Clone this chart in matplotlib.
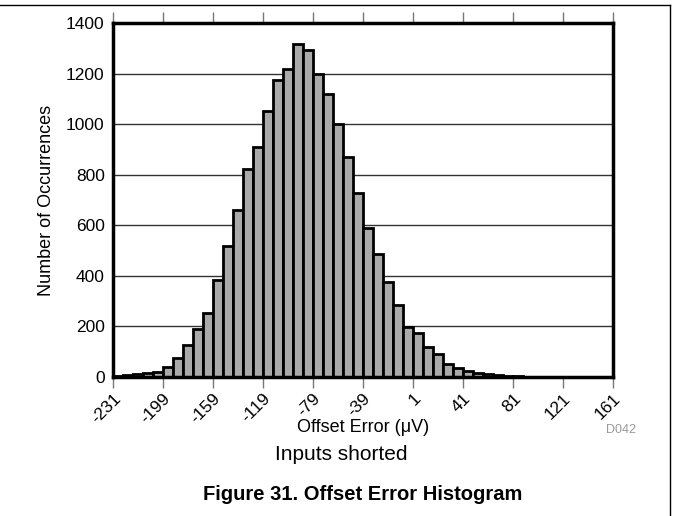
import numpy as np
import matplotlib.pyplot as plt
from matplotlib.lines import Line2D

plt.rcParams['font.family'] = ['Liberation Sans', 'DejaVu Sans']

# histogram counts, one per 8 uV bin (50 bins)
counts = [4, 7, 11, 14, 21, 40, 76, 128, 190, 254,
          385, 518, 660, 821, 911, 1051, 1173, 1219, 1318, 1294,
          1197, 1121, 1000, 871, 729, 589, 488, 374, 283, 199,
          175, 120, 92, 50, 37, 22, 15, 10, 6, 4,
          2, 0, 0, 0, 0, 0, 0, 0, 0, 0]
tickLabels = ['-231', '-199', '-159', '-119', '-79', '-39', '1', '41', '81', '121', '161']
yTicks = [0, 200, 400, 600, 800, 1000, 1200, 1400]

fig = plt.figure(figsize=(6.73, 5.16), dpi=100)
ax = fig.add_axes([113/673, 1 - 377/516, 500/673, 354/516])

binIdx = np.arange(len(counts))
ax.bar(binIdx, counts, width=1, align='edge', color='#aaaaaa',
       edgecolor='black', linewidth=2, zorder=3)

ax.set_xlim(0, len(counts))
ax.set_ylim(0, 1400)
ax.set_yticks(yTicks)
ax.set_yticklabels([str(v) for v in yTicks], fontsize=12.5)
ax.tick_params(axis='y', length=0, pad=6)

tickPos = np.arange(0, len(counts) + 1, 5)
ax.set_xticks(tickPos)
ax.set_xticklabels(tickLabels, fontsize=12.5, rotation=45, ha='right', va='top',
                   rotation_mode='anchor')
ax.tick_params(axis='x', direction='out', length=8, width=1, color='#777777',
               pad=2, top=True)

ax.grid(axis='y', color='#333333', linewidth=1, zorder=0)
for s in ax.spines.values():
    s.set_linewidth(2.5)
    s.set_color('black')
    s.set_zorder(4)

ax.set_ylabel('Number of Occurrences', fontsize=13, labelpad=8)

fig.text(363/673, 1 - 427/516, 'Offset Error (μV)', ha='center', va='center', fontsize=13)
fig.text(621/673, 1 - 430/516, 'D042', ha='center', va='center', fontsize=9, color='#999999')
fig.text(341/673, 1 - 455/516, 'Inputs shorted', ha='center', va='center', fontsize=15)
fig.text(363/673, 1 - 495/516, 'Figure 31. Offset Error Histogram', ha='center', va='center',
         fontsize=14.5, fontweight='bold')

# page frame lines
fig.add_artist(Line2D([0, 670/673], [1 - 5/516, 1 - 5/516], color='black', linewidth=1))
fig.add_artist(Line2D([670/673, 670/673], [1 - 5/516, 0], color='black', linewidth=1))

fig.savefig('out.png', dpi=100)
